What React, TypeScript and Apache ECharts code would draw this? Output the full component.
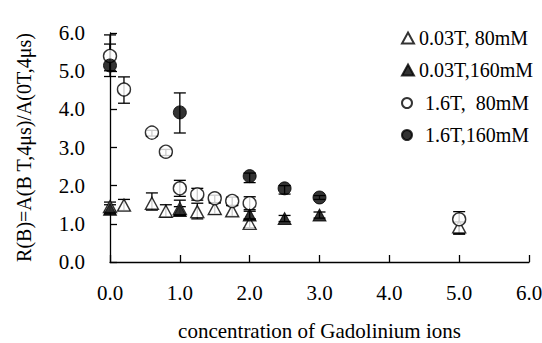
import React, { useEffect, useRef } from "react";
import * as echarts from "echarts";

// Gd concentration (x) and normalised ratio R(B) with error bar ends
const x_003_80 = [0, 0.2, 0.6, 0.8, 1.0, 1.25, 1.5, 1.75, 2.0, 5.0];
const r_003_80 = [1.45, 1.49, 1.54, 1.33, 1.4, 1.32, 1.4, 1.34, 1.01, 0.92];
const lo_003_80 = [1.33, 1.35, 1.36, 1.18, 1.22, 1.13, 1.26, 1.2, 0.9, 0.74];
const hi_003_80 = [1.57, 1.64, 1.81, 1.5, 1.62, 1.54, 1.55, 1.48, 1.12, 1.05];

const x_003_160 = [0, 1.0, 2.0, 2.5, 3.0];
const r_003_160 = [1.38, 1.35, 1.23, 1.14, 1.23];
const lo_003_160 = [1.26, 1.25, 1.13, 1.06, 1.15];
const hi_003_160 = [1.5, 1.45, 1.33, 1.22, 1.31];

const x_16_80 = [0, 0.2, 0.6, 0.8, 1.0, 1.25, 1.5, 1.75, 2.0, 5.0];
const r_16_80 = [5.4, 4.52, 3.39, 2.89, 1.93, 1.77, 1.67, 1.6, 1.54, 1.12];
const lo_16_80 = [4.86, 4.16, 3.3, 2.79, 1.72, 1.62, 1.55, 1.48, 1.37, 0.73];
const hi_16_80 = [5.95, 4.85, 3.45, 2.95, 2.14, 1.93, 1.75, 1.7, 1.71, 1.32];

const x_16_160 = [0, 1.0, 2.0, 2.5, 3.0];
const r_16_160 = [5.15, 3.92, 2.25, 1.93, 1.69];
const lo_16_160 = [5.01, 3.38, 2.08, 1.78, 1.64];
const hi_16_160 = [5.71, 4.43, 2.33, 2.0, 1.74];

const seriesNames = ["0.03T, 80mM", "0.03T,160mM", "1.6T,  80mM", "1.6T,160mM"];
const axisTicks = [0, 1, 2, 3, 4, 5, 6];

const FONT = "'Liberation Serif', 'Times New Roman', serif";

function points(xs: number[], ys: number[]) {
  return xs.map((x, i) => [x, ys[i]]);
}

function bars(xs: number[], lo: number[], hi: number[]) {
  return xs.map((x, i) => [x, lo[i], hi[i]]);
}

// vertical error bar with flat caps, drawn behind the markers
function errorSeries(data: number[][]) {
  return {
    type: "custom",
    z: 1,
    silent: true,
    data,
    renderItem: (_p: any, api: any) => {
      const x = api.value(0);
      const top = api.coord([x, api.value(2)]);
      const bot = api.coord([x, api.value(1)]);
      const w = 6;
      const style = { stroke: "#000", lineWidth: 1.3 };
      return {
        type: "group",
        children: [
          { type: "line", shape: { x1: top[0], y1: top[1], x2: bot[0], y2: bot[1] }, style },
          { type: "line", shape: { x1: top[0] - w, y1: top[1], x2: top[0] + w, y2: top[1] }, style },
          { type: "line", shape: { x1: bot[0] - w, y1: bot[1], x2: bot[0] + w, y2: bot[1] }, style },
        ],
      };
    },
  };
}

export default function App() {
  const ref = useRef<HTMLDivElement>(null);

  useEffect(() => {
    if (!ref.current) return;
    const chart = echarts.init(ref.current, null, { renderer: "svg" });
    const openStyle = { color: "#fff", borderColor: "#000", borderWidth: 1.4 };
    const fillStyle = { color: "#000", borderColor: "#000", borderWidth: 1 };
    const legendText = { fontFamily: FONT, fontSize: 20, color: "#000" };

    chart.setOption({
      animation: false,
      backgroundColor: "#fff",
      textStyle: { fontFamily: FONT, color: "#000" },
      grid: {
        left: 110,
        right: 13,
        top: 33,
        bottom: 81,
        containLabel: false,
        outerBoundsMode: "none",
      },
      legend: [
        {
          orient: "vertical",
          left: 396,
          top: 23,
          itemGap: 12,
          itemWidth: 12,
          itemHeight: 11,
          data: seriesNames.slice(0, 2),
          textStyle: legendText,
        },
        {
          orient: "vertical",
          left: 396,
          top: 88,
          itemGap: 12,
          itemWidth: 12,
          itemHeight: 10,
          data: seriesNames.slice(2),
          textStyle: { ...legendText, padding: [0, 0, 0, 7] },
        },
      ],
      xAxis: {
        type: "value",
        min: axisTicks[0],
        max: axisTicks[axisTicks.length - 1],
        interval: 1,
        name: "concentration of Gadolinium ions",
        nameLocation: "middle",
        nameGap: 59,
        nameTextStyle: { fontFamily: FONT, fontSize: 21, lineHeight: 20, color: "#000" },
        axisLine: { lineStyle: { color: "#000", width: 1.3 } },
        axisTick: { inside: true, length: 7, lineStyle: { color: "#000", width: 1.3 } },
        axisLabel: {
          margin: 20,
          fontFamily: FONT,
          fontSize: 21,
          color: "#000",
          formatter: (v: number) => v.toFixed(1),
        },
        splitLine: { show: false },
      },
      yAxis: {
        type: "value",
        min: axisTicks[0],
        max: axisTicks[axisTicks.length - 1],
        interval: 1,
        name: "R(B)=A(B T,4\u03bcs)/A(0T,4\u03bcs)",
        nameLocation: "middle",
        nameGap: 76,
        nameTextStyle: { fontFamily: FONT, fontSize: 20, color: "#000" },
        axisLine: { show: true, lineStyle: { color: "#000", width: 1.3 } },
        axisTick: { show: true, inside: true, length: 7, lineStyle: { color: "#000", width: 1.3 } },
        axisLabel: {
          margin: 25,
          fontFamily: FONT,
          fontSize: 21,
          color: "#000",
          formatter: (v: number) => v.toFixed(1),
        },
        splitLine: { show: false },
      },
      series: [
        errorSeries(bars(x_003_80, lo_003_80, hi_003_80)),
        errorSeries(bars(x_003_160, lo_003_160, hi_003_160)),
        errorSeries(bars(x_16_80, lo_16_80, hi_16_80)),
        errorSeries(bars(x_16_160, lo_16_160, hi_16_160)),
        {
          name: seriesNames[0],
          type: "scatter",
          z: 3,
          symbol: "triangle",
          symbolSize: [13, 12],
          itemStyle: openStyle,
          data: points(x_003_80, r_003_80),
        },
        {
          name: seriesNames[1],
          type: "scatter",
          z: 4,
          symbol: "triangle",
          symbolSize: [13, 12],
          itemStyle: fillStyle,
          data: points(x_003_160, r_003_160),
        },
        {
          name: seriesNames[2],
          type: "scatter",
          z: 3,
          symbol: "circle",
          symbolSize: 13,
          itemStyle: openStyle,
          data: points(x_16_80, r_16_80),
        },
        {
          name: seriesNames[3],
          type: "scatter",
          z: 4,
          symbol: "circle",
          symbolSize: 13,
          itemStyle: fillStyle,
          data: points(x_16_160, r_16_160),
        },
      ],
    });
    return () => chart.dispose();
  }, []);

  return <div ref={ref} style={{ width: 542, height: 343, position: "absolute", left: 0, top: 0 }} />;
}
